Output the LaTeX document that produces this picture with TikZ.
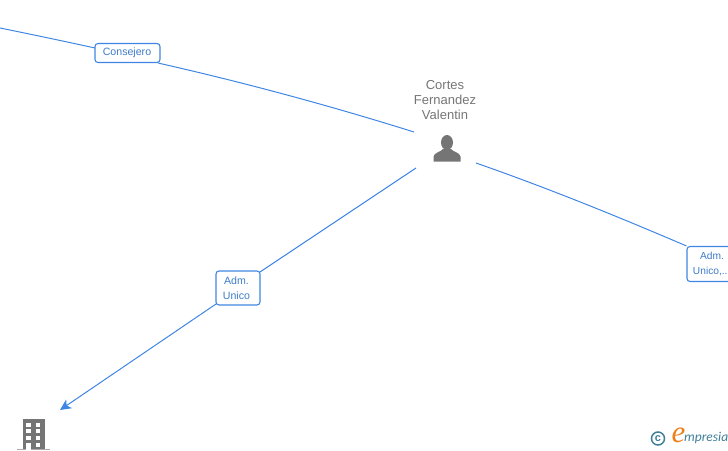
\documentclass[tikz,border=0pt]{standalone}
\usepackage{fontspec}
\setmainfont{Liberation Sans}
\newfontfamily\logofont{Carlito}
\newfontfamily\logoefont{Liberation Serif}
\usetikzlibrary{arrows.meta}
\definecolor{linkblue}{HTML}{3F86E4}
\definecolor{labelblue}{HTML}{3E7CC8}
\definecolor{icongray}{HTML}{757575}
\definecolor{logoteal}{HTML}{3F7F98}
\definecolor{logoorange}{HTML}{EE7F1A}
\tikzset{
  link/.style={draw=linkblue,line width=1pt},
  rolebox/.style={draw=linkblue,fill=white,rounded corners=3pt,line width=1.1pt,text=labelblue,
    font=\fontsize{10.6}{15}\selectfont,align=center,inner sep=0pt,anchor=center},
  personname/.style={text=icongray,font=\fontsize{13}{15}\selectfont,align=center,inner sep=0pt},
}
\begin{document}
\begin{tikzpicture}[x=1pt,y=-1pt]
\useasboundingbox (0,0) rectangle (728,450);
\clip (0,0) rectangle (728,450);
% free ends
\coordinate (leftend) at (0,28);
\coordinate (consW) at (95,48);
\coordinate (consE) at (158,63);
\coordinate (personNW) at (414,132);
\coordinate (personSW) at (416,168);
\coordinate (personE) at (476,163);
\coordinate (boxTR) at (260,272);
\coordinate (boxBL) at (216,304);
\coordinate (firmtip) at (60,410);
% role labels
\node[rolebox,minimum width=65pt,minimum height=19pt] (consejero) at (127.5,53) {\hspace*{-1pt}\raisebox{-1pt}{Consejero}};
\node[rolebox,minimum width=44pt,minimum height=34pt] (admunico) at (238,288) {\hspace*{-3pt}\raisebox{-0.5pt}{Adm.}\\\hspace*{-3pt}\raisebox{-0.5pt}{Unico}};
\node[rolebox,minimum width=50pt,minimum height=35pt,font=\fontsize{10.2}{15}\selectfont] (admunico2) at (712,264) {\raisebox{-0.5pt}{Adm.}\\\hspace*{-3.5pt}\raisebox{-0.5pt}{Unico,..}};
% connectors
\draw[link] (leftend) .. controls (32,34.5) and (63,41) .. (consW);
\draw[link] (consE) .. controls (245,82.7) and (330,105.7) .. (personNW);
\draw[link] (personE) .. controls (547,187.8) and (617,216.2) .. (admunico2.north west);
\draw[link] (personSW) -- (boxTR);
\draw[link,-{Stealth[length=11pt,width=10.5pt,inset=3pt]}] (boxBL) -- (firmtip);
% person
\node[personname] (cortes) at (445,100) {Cortes\\Fernandez\\Valentin};
\fill[icongray] (447,142.5) ellipse (6pt and 7.5pt);
\fill[icongray] (433.5,161.5) -- (433.5,156.5) .. controls (434,152.5) and (441,152) .. (443,149)
  -- (451,149) .. controls (453,152) and (460,152.5) .. (460.5,156.5) -- (460.5,161.5) -- cycle;
% building
\fill[icongray] (23,418.5) rectangle (44.5,450);
\draw[icongray!60,line width=0.8pt] (17,449.6) -- (50,449.6);
\foreach \wx in {26,35.7}{
  \foreach \wy in {422.5,429,436}{
    \fill[white] (\wx,\wy) rectangle ++(4.6,4);
  }
}
\fill[white] (26,442.5) rectangle (30.6,450);
\fill[white] (35.7,442.5) rectangle (40.3,447);
% logo
\node[draw=logoteal,circle,line width=1.5pt,minimum size=13pt,inner sep=0pt,text=logoteal,
  font=\fontsize{11}{11}\selectfont\bfseries] (copyr) at (658,438.5) {\raisebox{0.5pt}{c}};
\node[inner sep=0pt,text=logoorange,font=\logoefont\itshape\fontsize{31}{31}\selectfont] (logoe) at (678.5,435.5) {e};
\node[inner sep=0pt,anchor=west,text=logoteal,font=\logofont\itshape\fontsize{13.5}{13.5}\selectfont] (logotext) at (684,438) {mpresia};
\end{tikzpicture}
\end{document}
